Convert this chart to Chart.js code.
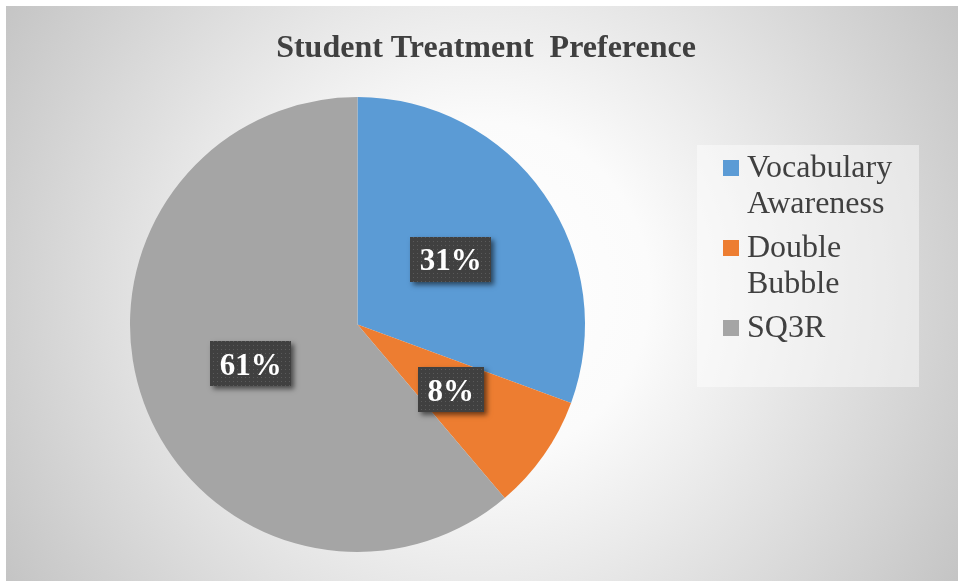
<!DOCTYPE html>
<html><head><meta charset="utf-8">
<script src="https://cdn.jsdelivr.net/npm/chart.js@4.4.0/dist/chart.umd.min.js"></script>
<style>html,body{margin:0;padding:0;background:#fff;overflow:hidden}#wrap{width:958px;height:581px;position:relative}canvas{display:block}</style>
</head><body><div id="wrap"><canvas id="c" width="958" height="581"></canvas></div>
<script>
const categories = ["Vocabulary Awareness", "Double Bubble", "SQ3R"];
const shares = [30.6, 8.2, 61.2];
const colors = ["#5B9BD5", "#ED7D31", "#A5A5A5"];
const titleText = "Student Treatment  Preference";

const SERIF = "'Liberation Serif', 'Times New Roman', serif";

function makePattern(ctx) {
  const p = document.createElement('canvas');
  p.width = 4; p.height = 4;
  const pc = p.getContext('2d');
  pc.fillStyle = '#404040'; pc.fillRect(0, 0, 4, 4);
  pc.fillStyle = '#5a5a5a'; pc.fillRect(1, 1, 1, 1);
  return ctx.createPattern(p, 'repeat');
}

const bgPlugin = {
  id: 'bg',
  beforeDraw(chart) {
    const ctx = chart.ctx;
    ctx.save();
    ctx.fillStyle = '#ffffff';
    ctx.fillRect(0, 0, chart.width, chart.height);
    const g = ctx.createRadialGradient(482, 290, 0, 482, 290, 560);
    g.addColorStop(0, '#ffffff');
    g.addColorStop(0.3, '#fbfbfb');
    g.addColorStop(1, '#c4c4c4');
    ctx.fillStyle = g;
    ctx.fillRect(6, 6, chart.width - 6, chart.height - 6);
    // title
    ctx.fillStyle = '#404040';
    ctx.font = 'bold 32px ' + SERIF;
    ctx.textAlign = 'center';
    ctx.textBaseline = 'alphabetic';
    ctx.fillText(titleText, 486, 57);
    // legend box
    ctx.fillStyle = 'rgba(255,255,255,0.45)';
    ctx.fillRect(697, 145, 222, 242);
    ctx.restore();
  }
};

const legendPlugin = {
  id: 'customLegend',
  afterDraw(chart) {
    const ctx = chart.ctx;
    ctx.save();
    ctx.font = '32px ' + SERIF;
    ctx.textAlign = 'left';
    ctx.textBaseline = 'alphabetic';
    const maxW = 165;
    let y = 177;
    chart.data.labels.forEach((lab, i) => {
      const words = lab.split(' ');
      const lines = [];
      let cur = '';
      words.forEach(w => {
        const t = cur ? cur + ' ' + w : w;
        if (cur && ctx.measureText(t).width > maxW) { lines.push(cur); cur = w; }
        else cur = t;
      });
      if (cur) lines.push(cur);
      ctx.fillStyle = chart.data.datasets[0].backgroundColor[i];
      ctx.fillRect(723, y - 17, 16, 16);
      ctx.fillStyle = '#404040';
      lines.forEach((ln, k) => {
        ctx.fillText(ln, 747, y + k * 36);
      });
      y += (lines.length - 1) * 36 + 44;
    });
    ctx.restore();
  }
};

const labelPlugin = {
  id: 'pctLabels',
  afterDatasetsDraw(chart) {
    const ctx = chart.ctx;
    const meta = chart.getDatasetMeta(0);
    const data = chart.data.datasets[0].data;
    const total = data.reduce((a, b) => a + b, 0);
    const pat = makePattern(ctx);
    ctx.save();
    ctx.font = 'bold 31px ' + SERIF;
    meta.data.forEach((arc, i) => {
      const {x, y} = arc.getCenterPoint();
      const txt = Math.round(data[i] / total * 100) + '%';
      const tw = ctx.measureText(txt).width;
      const w = Math.round(tw + 19), h = 45;
      const bx = Math.round(x - w / 2), by = Math.round(y - h / 2);
      ctx.save();
      ctx.shadowColor = 'rgba(0,0,0,0.55)';
      ctx.shadowBlur = 5;
      ctx.shadowOffsetX = 3;
      ctx.shadowOffsetY = 3;
      ctx.fillStyle = '#404040';
      ctx.fillRect(bx, by, w, h);
      ctx.restore();
      ctx.fillStyle = pat;
      ctx.fillRect(bx, by, w, h);
      ctx.fillStyle = '#ffffff';
      ctx.textAlign = 'center';
      ctx.textBaseline = 'alphabetic';
      ctx.fillText(txt, x, y + 11);
    });
    ctx.restore();
  }
};

new Chart(document.getElementById('c'), {
  type: 'pie',
  data: {
    labels: categories,
    datasets: [{
      data: shares,
      backgroundColor: colors,
      borderWidth: 0,
      hoverOffset: 0
    }]
  },
  options: {
    responsive: false,
    animation: false,
    devicePixelRatio: 1,
    layout: { padding: { left: 130, top: 97, right: 373, bottom: 29 } },
    plugins: {
      legend: { display: false },
      title: { display: false },
      tooltip: { enabled: false }
    },
    events: []
  },
  plugins: [bgPlugin, labelPlugin, legendPlugin]
});
</script>
</body></html>
